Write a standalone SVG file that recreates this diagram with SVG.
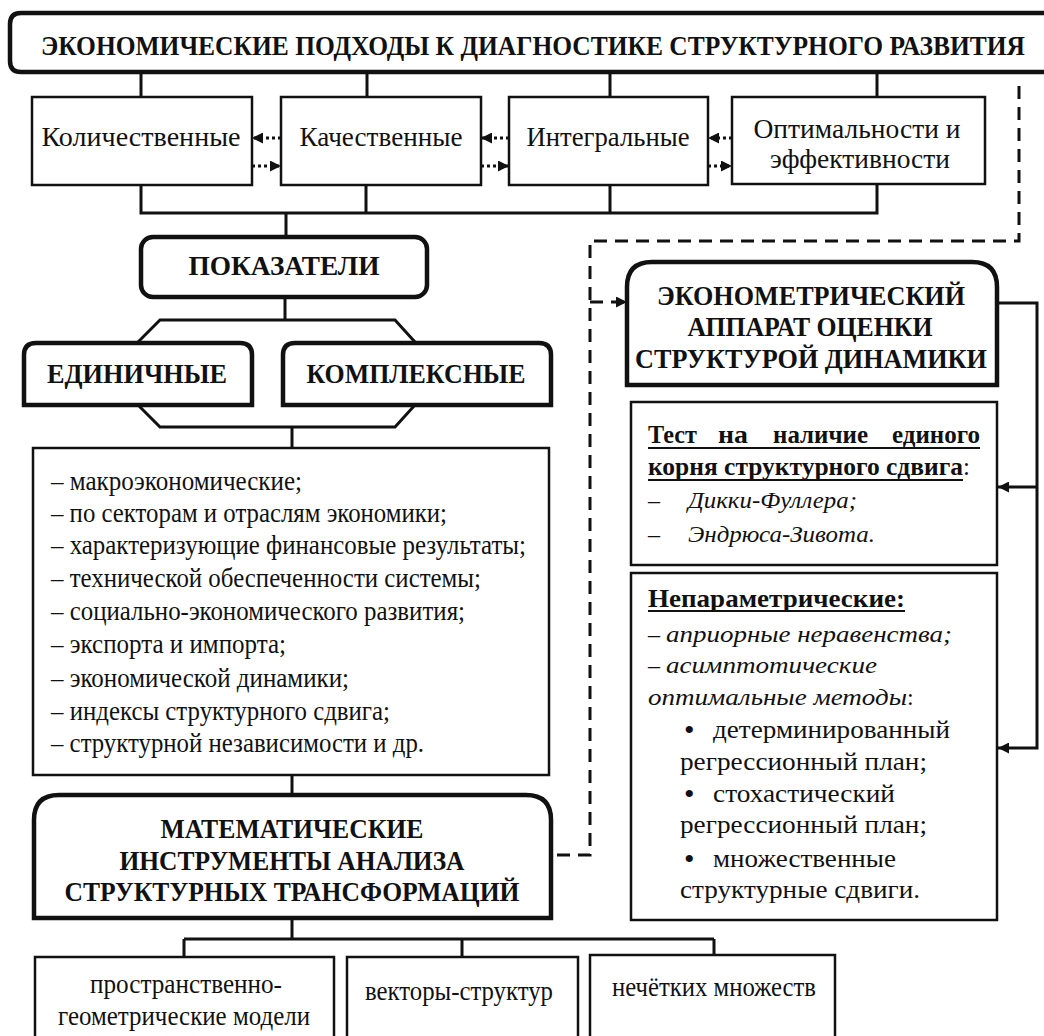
<svg xmlns="http://www.w3.org/2000/svg" width="1044" height="1036" viewBox="0 0 1044 1036" font-family="'Liberation Serif', serif">
<defs>
<style>
text{font-family:'Liberation Serif','Times New Roman',serif;fill:#111;}
.b{font-weight:bold;}
.i{font-style:italic;}
.c{text-anchor:middle;}
.box{fill:#fff;stroke:#111;stroke-width:2.5;}
.thick{fill:#fff;stroke:#111;stroke-width:4.5;}
.ln{fill:none;stroke:#111;stroke-width:3;}
.dot{fill:none;stroke:#111;stroke-width:3;stroke-dasharray:3 3;}
.dash{fill:none;stroke:#111;stroke-width:3;stroke-dasharray:13 8;}
.t26{font-size:28px;}
.t28{font-size:28px;}
.t24{font-size:24px;}
.ul{stroke:#111;stroke-width:2;}
</style>
<marker id="ah" viewBox="0 0 10 10" refX="10" refY="5" markerWidth="11" markerHeight="11" markerUnits="userSpaceOnUse" orient="auto-start-reverse">
<path d="M0,0 L10,5 L0,10 z" fill="#111"/>
</marker>
</defs>
<rect width="1044" height="1036" fill="#fff"/>

<g id="connectors">
<path class="ln" d="M141,72 V97 M367,72 V97 M610,72 V97 M877,72 V97"/>
<path class="ln" d="M141,185 V213 H877 V184 M366,185 V213 M610,185 V213 M286,213 V237"/>
<path class="ln" d="M285,297 V320 M292,427 V448 M292,775 V795"/>
<path class="ln" d="M292,918 V939 M184,939 H714 M184,939 V957 M462,939 V957 M714,939 V955"/>
<path class="ln" d="M997,303 H1037 V748 H998" marker-end="url(#ah)"/>
<path class="ln" d="M1037,487 H998" marker-end="url(#ah)"/>
<path class="ln" d="M252,373 H283" marker-start="url(#ah)" marker-end="url(#ah)"/>
<path class="dot" d="M281,138 H252" marker-end="url(#ah)"/>
<path class="dot" d="M252,166 H281" marker-end="url(#ah)"/>
<path class="dot" d="M509,138 H481" marker-end="url(#ah)"/>
<path class="dot" d="M481,166 H509" marker-end="url(#ah)"/>
<path class="dot" d="M732,138 H708" marker-end="url(#ah)"/>
<path class="dot" d="M708,166 H732" marker-end="url(#ah)"/>
<path class="dash" d="M1019,86 V241 H590 V855 H551"/>
<path class="dash" d="M590,302 H627" marker-end="url(#ah)"/>
</g>

<g id="title">
<path class="thick" d="M1044,13 H21 Q10,13 10,24 V61 Q10,72 21,72 H1044"/>
<text class="b c" x="533" y="55" font-size="28" textLength="984" lengthAdjust="spacingAndGlyphs">ЭКОНОМИЧЕСКИЕ ПОДХОДЫ К ДИАГНОСТИКЕ СТРУКТУРНОГО РАЗВИТИЯ</text>
</g>

<g id="kolich">
<rect class="box" x="32" y="97" width="220" height="88"/>
<text class="t26 c" x="141" y="146" textLength="199" lengthAdjust="spacingAndGlyphs">Количественные</text>
</g>
<g id="kachest">
<rect class="box" x="281" y="97" width="200" height="88"/>
<text class="t26 c" x="381" y="146" textLength="163" lengthAdjust="spacingAndGlyphs">Качественные</text>
</g>
<g id="integr">
<rect class="box" x="509" y="97" width="199" height="88"/>
<text class="t26 c" x="608" y="146" textLength="163" lengthAdjust="spacingAndGlyphs">Интегральные</text>
</g>
<g id="optim">
<rect class="box" x="732" y="97" width="253" height="87"/>
<text class="t26 c" x="857" y="138" textLength="207" lengthAdjust="spacingAndGlyphs">Оптимальности и</text>
<text class="t26 c" x="860" y="168" textLength="180" lengthAdjust="spacingAndGlyphs">эффективности</text>
</g>

<g id="pokazateli">
<rect class="thick" x="141" y="237" width="286" height="60" rx="12"/>
<text class="b c" x="284" y="275" font-size="28" textLength="191" lengthAdjust="spacingAndGlyphs">ПОКАЗАТЕЛИ</text>
</g>

<g id="hexagon">
<polygon points="160,320 395,320 415,342 415,405 395,427 160,427 138,405 138,342" fill="#fff" stroke="#111" stroke-width="3"/>
</g>

<g id="edinichnye">
<path class="thick" d="M24,405 V355 Q24,343 36,343 H240 Q252,343 252,355 V405 Z"/>
<text class="b c" x="137" y="383" font-size="28" textLength="180" lengthAdjust="spacingAndGlyphs">ЕДИНИЧНЫЕ</text>
</g>
<g id="kompleksnye">
<path class="thick" d="M283,405 V355 Q283,343 295,343 H539 Q551,343 551,355 V405 Z"/>
<text class="b c" x="416" y="383" font-size="28" textLength="219" lengthAdjust="spacingAndGlyphs">КОМПЛЕКСНЫЕ</text>
</g>

<g id="list">
<rect class="box" x="33" y="448" width="516" height="327"/>
<text class="t28" x="51" y="490" textLength="251" lengthAdjust="spacingAndGlyphs">– макроэкономические;</text>
<text class="t28" x="51" y="522" textLength="396" lengthAdjust="spacingAndGlyphs">– по секторам и отраслям экономики;</text>
<text class="t28" x="51" y="554" textLength="475" lengthAdjust="spacingAndGlyphs">– характеризующие финансовые результаты;</text>
<text class="t28" x="51" y="587" textLength="430" lengthAdjust="spacingAndGlyphs">– технической обеспеченности системы;</text>
<text class="t28" x="51" y="620" textLength="414" lengthAdjust="spacingAndGlyphs">– социально-экономического развития;</text>
<text class="t28" x="51" y="653" textLength="235" lengthAdjust="spacingAndGlyphs">– экспорта и импорта;</text>
<text class="t28" x="51" y="687" textLength="298" lengthAdjust="spacingAndGlyphs">– экономической динамики;</text>
<text class="t28" x="51" y="720" textLength="339" lengthAdjust="spacingAndGlyphs">– индексы структурного сдвига;</text>
<text class="t28" x="51" y="752" textLength="373" lengthAdjust="spacingAndGlyphs">– структурной независимости и др.</text>
</g>

<g id="math">
<path class="thick" d="M34,918 V820 Q34,795 59,795 H526 Q551,795 551,820 V918 Z"/>
<text class="b c" x="292" y="838" font-size="28" textLength="263" lengthAdjust="spacingAndGlyphs">МАТЕМАТИЧЕСКИЕ</text>
<text class="b c" x="292" y="870" font-size="28" textLength="345" lengthAdjust="spacingAndGlyphs">ИНСТРУМЕНТЫ АНАЛИЗА</text>
<text class="b c" x="292" y="901" font-size="28" textLength="455" lengthAdjust="spacingAndGlyphs">СТРУКТУРНЫХ ТРАНСФОРМАЦИЙ</text>
</g>

<g id="prostr">
<rect class="box" x="35" y="957" width="299" height="90"/>
<text class="t28 c" x="186" y="993" textLength="192" lengthAdjust="spacingAndGlyphs">пространственно-</text>
<text class="t28 c" x="184" y="1025" textLength="252" lengthAdjust="spacingAndGlyphs">геометрические модели</text>
</g>
<g id="vektory">
<rect class="box" x="347" y="957" width="231" height="90"/>
<text class="t28 c" x="459" y="1000" textLength="188" lengthAdjust="spacingAndGlyphs">векторы-структур</text>
</g>
<g id="nechetkikh">
<rect class="box" x="590" y="955" width="245" height="92"/>
<text class="t28 c" x="714" y="996" textLength="204" lengthAdjust="spacingAndGlyphs">нечётких множеств</text>
</g>

<g id="ekonometr">
<path class="thick" d="M627,385 V287 Q627,262 652,262 H972 Q997,262 997,287 V385 Z"/>
<text class="b c" x="811" y="305" font-size="28" textLength="308" lengthAdjust="spacingAndGlyphs">ЭКОНОМЕТРИЧЕСКИЙ</text>
<text class="b c" x="810" y="336" font-size="28" textLength="245" lengthAdjust="spacingAndGlyphs">АППАРАТ ОЦЕНКИ</text>
<text class="b c" x="811" y="368" font-size="28" textLength="352" lengthAdjust="spacingAndGlyphs">СТРУКТУРОЙ ДИНАМИКИ</text>
</g>

<g id="test">
<rect class="box" x="631" y="402" width="366" height="163"/>
<text class="b" x="648" y="443" font-size="25" textLength="49" lengthAdjust="spacingAndGlyphs">Тест</text>
<text class="b" x="718" y="443" font-size="25" textLength="30" lengthAdjust="spacingAndGlyphs">на</text>
<text class="b" x="773" y="443" font-size="25" textLength="95" lengthAdjust="spacingAndGlyphs">наличие</text>
<text class="b" x="892" y="443" font-size="25" textLength="88" lengthAdjust="spacingAndGlyphs">единого</text>
<line class="ul" x1="648" y1="448" x2="980" y2="448"/>
<text x="648" y="475" font-size="25"><tspan class="b" textLength="315" lengthAdjust="spacingAndGlyphs">корня структурного сдвига</tspan>:</text>
<line class="ul" x1="648" y1="480" x2="963" y2="480"/>
<text class="t24" x="648" y="508">–</text>
<text class="t24 i" x="688" y="508" textLength="169" lengthAdjust="spacingAndGlyphs">Дикки-Фуллера;</text>
<text class="t24" x="648" y="542">–</text>
<text class="t24 i" x="688" y="542" textLength="187" lengthAdjust="spacingAndGlyphs">Эндрюса-Зивота.</text>
</g>

<g id="neparam">
<rect class="box" x="631" y="573" width="366" height="347"/>
<text class="b" x="648" y="607" font-size="26" textLength="257" lengthAdjust="spacingAndGlyphs">Непараметрические:</text>
<line class="ul" x1="648" y1="611" x2="905" y2="611"/>
<text class="t24" x="648" y="642">– <tspan class="i" textLength="286" lengthAdjust="spacingAndGlyphs">априорные неравенства;</tspan></text>
<text class="t24" x="648" y="673">– <tspan class="i" textLength="211" lengthAdjust="spacingAndGlyphs">асимптотические</tspan></text>
<text class="t24" x="648" y="705"><tspan class="i" textLength="259" lengthAdjust="spacingAndGlyphs">оптимальные методы</tspan>:</text>
<text x="684" y="740" font-size="30">•</text>
<text x="713" y="738" font-size="26" textLength="237" lengthAdjust="spacingAndGlyphs">детерминированный</text>
<text x="680" y="770" font-size="26" textLength="247" lengthAdjust="spacingAndGlyphs">регрессионный план;</text>
<text x="684" y="804" font-size="30">•</text>
<text x="713" y="802" font-size="26" textLength="182" lengthAdjust="spacingAndGlyphs">стохастический</text>
<text x="680" y="833" font-size="26" textLength="247" lengthAdjust="spacingAndGlyphs">регрессионный план;</text>
<text x="684" y="869" font-size="30">•</text>
<text x="713" y="867" font-size="26" textLength="183" lengthAdjust="spacingAndGlyphs">множественные</text>
<text x="680" y="898" font-size="26" textLength="240" lengthAdjust="spacingAndGlyphs">структурные сдвиги.</text>
</g>
</svg>
